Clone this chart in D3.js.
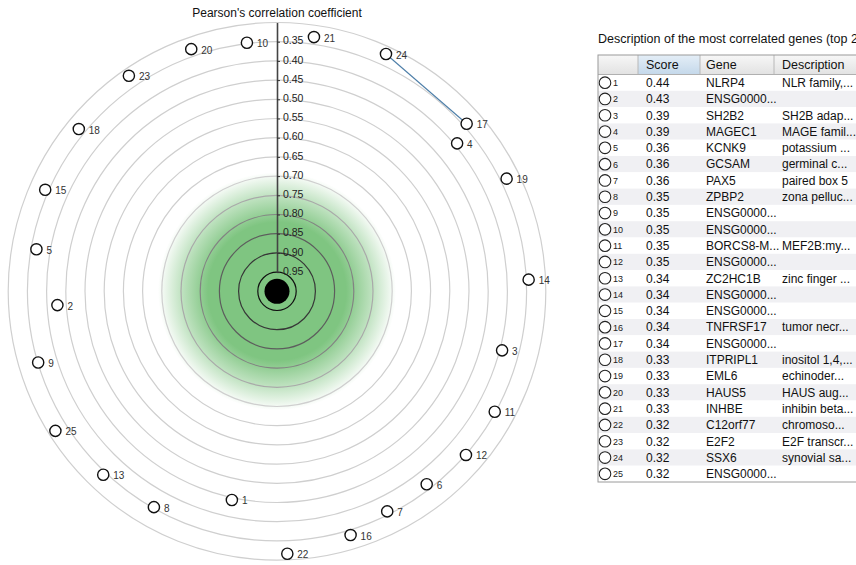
<!DOCTYPE html>
<html>
<head>
<meta charset="utf-8">
<script src="https://cdn.jsdelivr.net/npm/d3@7"></script>
<style>
  html, body { margin: 0; padding: 0; background: #fff; }
  svg { display: block; font-family: "Liberation Sans", Arial, sans-serif; }
</style>
</head>
<body>
<svg id="chart" width="856" height="565"></svg>
<script>
// ---------- data ----------
const ranks = d3.range(1, 26);
const scores = [0.444, 0.427, 0.394, 0.393, 0.364, 0.364, 0.359, 0.353, 0.351, 0.348,
                0.352, 0.349, 0.342, 0.344, 0.341, 0.337, 0.341, 0.333, 0.334, 0.331,
                0.331, 0.316, 0.319, 0.320, 0.318];
const angles = [192.2, 266.4, 104.7, 50.6, 279.9, 142.2, 153.4, 209.7, 253.4, 353.1,
                118.95, 130.9, 223.45, 87.35, 293.65, 163.2, 48.54, 309.3, 63.87, 340.5,
                8.27, 177.75, 325.5, 24.67, 237.8];
const genes = ["NLRP4", "ENSG0000...", "SH2B2", "MAGEC1", "KCNK9", "GCSAM", "PAX5", "ZPBP2",
               "ENSG0000...", "ENSG0000...", "BORCS8-M...", "ENSG0000...", "ZC2HC1B", "ENSG0000...",
               "ENSG0000...", "TNFRSF17", "ENSG0000...", "ITPRIPL1", "EML6", "HAUS5", "INHBE",
               "C12orf77", "E2F2", "SSX6", "ENSG0000..."];
const descriptions = ["NLR family,...", "", "SH2B adap...", "MAGE famil...", "potassium ...",
               "germinal c...", "paired box 5", "zona pelluc...", "", "", "MEF2B:my...", "",
               "zinc finger ...", "", "", "tumor necr...", "", "inositol 1,4,...", "echinoder...",
               "HAUS aug...", "inhibin beta...", "chromoso...", "E2F transcr...", "synovial sa...", ""];
const links = [[24, 17]];
const ringValues = [0.30, 0.35, 0.40, 0.45, 0.50, 0.55, 0.60, 0.65, 0.70, 0.75, 0.80, 0.85, 0.90, 0.95];
const tickValues = [0.35, 0.40, 0.45, 0.50, 0.55, 0.60, 0.65, 0.70, 0.75, 0.80, 0.85, 0.90, 0.95];
const headers = ["", "Score", "Gene", "Description"];

// ---------- radial plot ----------
const svg = d3.select("#chart");
const cx = 277, cy = 291.3;
const r = d3.scaleLinear().domain([1, 0.3]).range([0, 268.8]);
const ringColor = d3.scaleLinear().domain([0.95, 0.70]).range(["#111", "#cfcfcf"]).clamp(true);

const defs = svg.append("defs");
const grad = defs.append("radialGradient").attr("id", "glow");
grad.append("stop").attr("offset", "0%").attr("stop-color", "#7fc581").attr("stop-opacity", 1);
grad.append("stop").attr("offset", "58%").attr("stop-color", "#7fc581").attr("stop-opacity", 1);
grad.append("stop").attr("offset", "80%").attr("stop-color", "#7fc581").attr("stop-opacity", 0.5);
grad.append("stop").attr("offset", "100%").attr("stop-color", "#7fc581").attr("stop-opacity", 0);

const g = svg.append("g").attr("transform", `translate(${cx},${cy})`);
g.append("circle").attr("r", r(0.69)).attr("fill", "url(#glow)");

g.selectAll("circle.ring").data(ringValues).join("circle")
  .attr("class", "ring")
  .attr("r", d => r(d))
  .attr("fill", "none")
  .attr("stroke", d => ringColor(d))
  .attr("stroke-width", 1.2);

g.append("circle").attr("r", 12.5).attr("fill", "#000");

// axis
const yAxisScale = d3.scaleLinear().domain([0.30, 0.95]).range([-r(0.30), -r(0.95)]);
const axis = g.append("g")
  .call(d3.axisRight(yAxisScale).tickValues(tickValues).tickFormat(d3.format(".2f"))
        .tickSize(3).tickPadding(3).tickSizeOuter(0));
axis.select(".domain").attr("stroke", "#444").attr("stroke-width", 1.6);
axis.selectAll(".tick line").attr("stroke", "#333");
axis.selectAll(".tick text").attr("font-size", 10.5).attr("fill", "#222")
  .attr("font-family", "Liberation Sans, Arial, sans-serif").attr("dy", "0.2em");

svg.append("text").attr("x", cx).attr("y", 17).attr("text-anchor", "middle")
  .attr("font-size", 12).attr("fill", "#111").text("Pearson's correlation coefficient");

// nodes
const nodes = ranks.map((k, i) => {
  const p = d3.pointRadial(angles[i] * Math.PI / 180, r(scores[i]));
  return { id: k, x: p[0], y: p[1] };
});
const byId = new Map(nodes.map(n => [n.id, n]));

g.selectAll("line.link").data(links).join("line")
  .attr("class", "link")
  .attr("x1", d => byId.get(d[0]).x).attr("y1", d => byId.get(d[0]).y)
  .attr("x2", d => byId.get(d[1]).x).attr("y2", d => byId.get(d[1]).y)
  .attr("stroke", "#4d7ea8").attr("stroke-width", 1.1);

const ng = g.selectAll("g.node").data(nodes).join("g")
  .attr("class", "node")
  .attr("transform", d => `translate(${d.x},${d.y})`);
ng.append("circle").attr("r", 5.6).attr("fill", "#fff").attr("stroke", "#111").attr("stroke-width", 1.4);
ng.append("text").attr("x", 10).attr("dy", "0.45em").attr("font-size", 10).attr("fill", "#333")
  .text(d => d.id);

// ---------- table ----------
const tx = 598, ty = 55, headH = 19.5, rowH = 16.3, tw = 270;
const colX = [598, 638, 700, 774];
const textX = [0, 646, 706, 782];

svg.append("text").attr("x", 598).attr("y", 43).attr("font-size", 12.5).attr("fill", "#111")
  .text("Description of the most correlated genes (top 25)");

const hg1 = defs.append("linearGradient").attr("id", "hdr").attr("x1", 0).attr("x2", 0).attr("y1", 0).attr("y2", 1);
hg1.append("stop").attr("offset", "0%").attr("stop-color", "#f7f7f7");
hg1.append("stop").attr("offset", "100%").attr("stop-color", "#e2e2e2");
const hg2 = defs.append("linearGradient").attr("id", "hdrSel").attr("x1", 0).attr("x2", 0).attr("y1", 0).attr("y2", 1);
hg2.append("stop").attr("offset", "0%").attr("stop-color", "#e4eef7");
hg2.append("stop").attr("offset", "100%").attr("stop-color", "#c4d8ea");

const tbl = svg.append("g");
const rows = ranks.map((k, i) => ({ id: k, score: scores[i], gene: genes[i], desc: descriptions[i] }));

tbl.selectAll("rect.row").data(rows).join("rect")
  .attr("class", "row")
  .attr("x", tx).attr("y", (d, i) => ty + headH + i * rowH)
  .attr("width", tw).attr("height", rowH)
  .attr("fill", (d, i) => i % 2 === 1 ? "#f0f0f3" : "#fff");

tbl.selectAll("rect.hcell").data(headers).join("rect")
  .attr("class", "hcell")
  .attr("x", (d, i) => colX[i]).attr("y", ty)
  .attr("width", (d, i) => (i < 3 ? colX[i + 1] : tx + tw) - colX[i]).attr("height", headH)
  .attr("fill", (d, i) => i === 1 ? "url(#hdrSel)" : "url(#hdr)");
tbl.selectAll("line.hdiv").data(colX.slice(1)).join("line")
  .attr("class", "hdiv")
  .attr("x1", d => d).attr("x2", d => d).attr("y1", ty).attr("y2", ty + headH)
  .attr("stroke", "#b8b8b8");
tbl.append("line").attr("x1", tx).attr("x2", tx + tw).attr("y1", ty + headH).attr("y2", ty + headH)
  .attr("stroke", "#b0b0b0");
tbl.selectAll("text.htxt").data(headers).join("text")
  .attr("class", "htxt")
  .attr("x", (d, i) => textX[i]).attr("y", ty + headH / 2).attr("dy", "0.36em")
  .attr("font-size", 12.5).attr("fill", "#111").text(d => d);

const rg = tbl.selectAll("g.r").data(rows).join("g")
  .attr("class", "r")
  .attr("transform", (d, i) => `translate(0,${ty + headH + i * rowH + rowH / 2})`);
rg.append("circle").attr("cx", 605).attr("r", 5.8).attr("fill", "#fff").attr("stroke", "#222").attr("stroke-width", 1.1);
rg.append("text").attr("x", 613).attr("dy", "0.38em").attr("font-size", 9).attr("fill", "#222").text(d => d.id);
rg.append("text").attr("x", textX[1]).attr("dy", "0.36em").attr("font-size", 12).attr("fill", "#111")
  .text(d => d3.format(".2f")(d.score));
rg.append("text").attr("x", textX[2]).attr("dy", "0.36em").attr("font-size", 12).attr("fill", "#111")
  .text(d => d.gene);
rg.append("text").attr("x", textX[3]).attr("dy", "0.36em").attr("font-size", 12).attr("fill", "#111")
  .text(d => d.desc);

tbl.append("rect").attr("x", tx).attr("y", ty).attr("width", tw).attr("height", headH + rows.length * rowH)
  .attr("fill", "none").attr("stroke", "#9a9a9a").attr("stroke-width", 1);
</script>
</body>
</html>
